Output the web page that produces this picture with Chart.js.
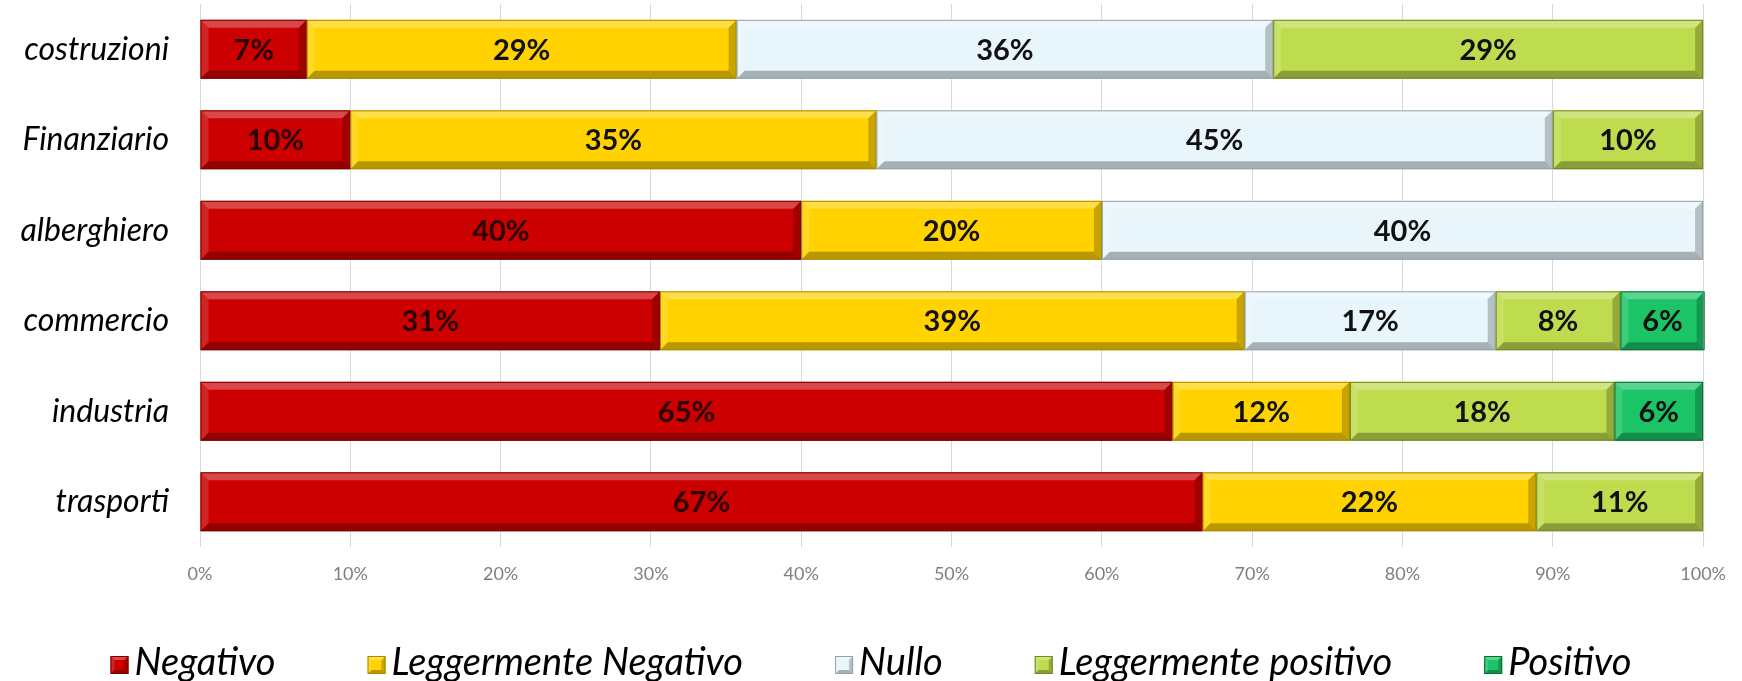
<!DOCTYPE html>
<html>
<head>
<meta charset="utf-8">
<script src="https://cdn.jsdelivr.net/npm/chart.js@4/dist/chart.umd.min.js"></script>
<style>
  html, body { margin: 0; padding: 0; background: #ffffff; }
  #wrap { width: 1742px; height: 681px; position: relative; }
</style>
</head>
<body>
<div id="wrap"><canvas id="c" width="1742" height="681"></canvas></div>
<script>
// ---- data ----
const categories = ["costruzioni", "Finanziario", "alberghiero", "commercio", "industria", "trasporti"];
const seriesNames = ["Negativo", "Leggermente Negativo", "Nullo", "Leggermente positivo", "Positivo"];
const negativo = [7.1, 10, 40, 30.6, 64.7, 66.7];
const leggNegativo = [28.6, 35, 20, 38.9, 11.8, 22.2];
const nullo = [35.7, 45, 40, 16.7, 0, 0];
const leggPositivo = [28.6, 10, 0, 8.3, 17.6, 11.1];
const positivo = [0, 0, 0, 5.6, 5.9, 0];
const xTicks = [0, 10, 20, 30, 40, 50, 60, 70, 80, 90, 100];

const colors = ["#CC0000", "#FFD200", "#E8F6FB", "#BEDC4E", "#1BC467"];
const borders = ["#7A0000", "#A88A00", "#8FA3AA", "#6F8A1E", "#0B6B35"];

const seriesValues = [negativo, leggNegativo, nullo, leggPositivo, positivo];

function bevelRect(ctx, x0, y0, x1, y1, b, border) {
  ctx.save();
  ctx.fillStyle = 'rgba(255,255,255,0.28)';
  ctx.beginPath();
  ctx.moveTo(x0, y0); ctx.lineTo(x1, y0); ctx.lineTo(x1 - b, y0 + b); ctx.lineTo(x0 + b, y0 + b); ctx.closePath(); ctx.fill();
  ctx.fillStyle = 'rgba(255,255,255,0.14)';
  ctx.beginPath();
  ctx.moveTo(x0, y0); ctx.lineTo(x0 + b, y0 + b); ctx.lineTo(x0 + b, y1 - b); ctx.lineTo(x0, y1); ctx.closePath(); ctx.fill();
  ctx.fillStyle = 'rgba(0,0,0,0.28)';
  ctx.beginPath();
  ctx.moveTo(x0, y1); ctx.lineTo(x1, y1); ctx.lineTo(x1 - b, y1 - b); ctx.lineTo(x0 + b, y1 - b); ctx.closePath(); ctx.fill();
  ctx.fillStyle = 'rgba(0,0,0,0.22)';
  ctx.beginPath();
  ctx.moveTo(x1, y0); ctx.lineTo(x1, y1); ctx.lineTo(x1 - b, y1 - b); ctx.lineTo(x1 - b, y0 + b); ctx.closePath(); ctx.fill();
  ctx.strokeStyle = border;
  ctx.lineWidth = 1;
  ctx.strokeRect(x0 + 0.5, y0 + 0.5, x1 - x0 - 1, y1 - y0 - 1);
  ctx.restore();
}

const bevelPlugin = {
  id: 'bevel',
  afterDatasetsDraw(chart) {
    const ctx = chart.ctx;
    chart.data.datasets.forEach((ds, di) => {
      const meta = chart.getDatasetMeta(di);
      meta.data.forEach((el, i) => {
        const v = ds.data[i];
        if (!v) return;
        const p = el.getProps(['x', 'y', 'base', 'height'], true);
        const x0 = Math.min(p.x, p.base), x1 = Math.max(p.x, p.base);
        const y0 = p.y - p.height / 2, y1 = p.y + p.height / 2;
        bevelRect(ctx, x0, y0, x1, y1, Math.min(8, (x1 - x0) / 3), borders[di]);
      });
    });
    chart.data.datasets.forEach((ds, di) => {
      const meta = chart.getDatasetMeta(di);
      meta.data.forEach((el, i) => {
        const v = ds.data[i];
        if (!v) return;
        const p = el.getProps(['x', 'y', 'base'], true);
        ctx.save();
        ctx.font = 'bold 29px Lato';
        ctx.fillStyle = di === 0 ? '#2a0000' : '#111111';
        ctx.textAlign = 'center';
        ctx.textBaseline = 'middle';
        ctx.fillText(Math.round(v) + '%', (p.x + p.base) / 2, p.y + 1);
        ctx.restore();
      });
    });
  },
  afterDraw(chart) {
    // custom legend
    const ctx = chart.ctx;
    const font = 'italic 38px Lato';
    const box = 18, gapBox = 6, gapItem = 92;
    ctx.save();
    ctx.font = font;
    const widths = seriesNames.map(n => box + gapBox + ctx.measureText(n).width);
    const total = widths.reduce((a, b) => a + b, 0) + gapItem * (seriesNames.length - 1);
    let x = (chart.width - total) / 2;
    const yc = 663;
    seriesNames.forEach((n, i) => {
      ctx.fillStyle = colors[i];
      ctx.fillRect(x, yc - box / 2 + 2, box, box);
      bevelRect(ctx, x, yc - box / 2 + 2, x + box, yc + box / 2 + 2, 4, borders[i]);
      ctx.fillStyle = '#000000';
      ctx.font = font;
      ctx.textAlign = 'left';
      ctx.textBaseline = 'middle';
      ctx.fillText(n, x + box + gapBox, yc);
      x += widths[i] + gapItem;
    });
    ctx.restore();
  }
};

new Chart(document.getElementById('c'), {
  type: 'bar',
  data: {
    labels: categories,
    datasets: seriesNames.map((name, i) => ({
      label: name,
      data: seriesValues[i],
      backgroundColor: colors[i],
      borderWidth: 0,
      barPercentage: 0.65,
      categoryPercentage: 1.0
    }))
  },
  options: {
    indexAxis: 'y',
    responsive: false,
    animation: false,
    layout: { padding: { left: 0, right: 38, top: 4, bottom: 86 } },
    scales: {
      x: {
        stacked: true,
        min: 0, max: 100,
        afterBuildTicks(scale) { scale.ticks = xTicks.map(v => ({ value: v })); },
        ticks: {
          callback: v => v + '%',
          color: '#7f7f7f',
          font: { family: 'Lato', size: 18 },
          padding: 16
        },
        grid: { color: '#D9D9D9', drawTicks: false },
        border: { display: false },
        afterFit(scale) { scale.height = 48; }
      },
      y: {
        stacked: true,
        ticks: {
          color: '#000000',
          font: { family: 'Lato', size: 32, style: 'italic' },
          padding: 23
        },
        grid: { display: false },
        border: { display: false },
        afterFit(scale) { scale.width = 200; scale.paddingTop = 0; scale.paddingBottom = 0; }
      }
    },
    plugins: {
      legend: { display: false },
      tooltip: { enabled: false }
    }
  },
  plugins: [bevelPlugin]
});
</script>
</body>
</html>
